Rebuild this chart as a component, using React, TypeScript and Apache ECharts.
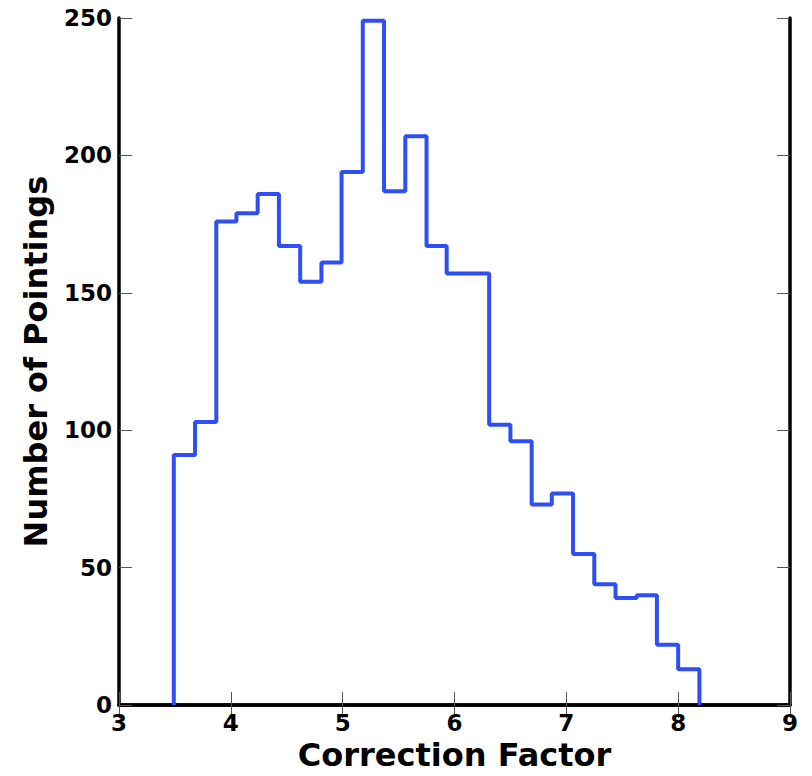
import React, { useEffect, useRef } from "react";
import * as echarts from "echarts";

const binEdges = [
  3.49, 3.68, 3.87, 4.05, 4.24, 4.43, 4.62, 4.81, 4.99, 5.18, 5.37, 5.56, 5.75,
  5.93, 6.12, 6.31, 6.5, 6.69, 6.87, 7.06, 7.25, 7.44, 7.63, 7.81, 8.0, 8.19,
];
const counts = [
  91, 103, 176, 179, 186, 167, 154, 161, 194, 249, 187, 207, 167, 157, 157, 102,
  96, 73, 77, 55, 44, 39, 40, 22, 13,
];
const xTicks = [3, 4, 5, 6, 7, 8, 9];
const yTicks = [0, 50, 100, 150, 200, 250];
const xTitle = "Correction Factor";
const yTitle = "Number of Pointings";

const FONT = "DejaVu Sans";

export default function App() {
  const ref = useRef<HTMLDivElement>(null);
  useEffect(() => {
    if (!ref.current) return;
    const chart = echarts.init(ref.current, undefined, { renderer: "svg" });
    const pts: [number, number][] = [[binEdges[0], 0]];
    counts.forEach((c, i) => {
      pts.push([binEdges[i], c]);
      pts.push([binEdges[i + 1], c]);
    });
    pts.push([binEdges[binEdges.length - 1], 0]);

    const axisLine = { show: true, lineStyle: { color: "#000", width: 3.5 } };
    const axisTick = { show: true, inside: true, length: 13, lineStyle: { color: "#555", width: 1 } };
    const labelStyle = { fontFamily: FONT, fontWeight: "bold" as const, fontSize: 23, color: "#000" };
    const titleStyle = { fontFamily: FONT, fontWeight: "bold" as const, fontSize: 32, color: "#000" };

    chart.setOption({
      animation: false,
      backgroundColor: "#fff",
      grid: { left: 119, top: 18, right: 22, bottom: 67, containLabel: false },
      xAxis: [
        {
          type: "value",
          min: xTicks[0],
          max: xTicks[xTicks.length - 1],
          interval: 1,
          position: "bottom",
          axisLine,
          axisTick,
          splitLine: { show: false },
          axisLabel: { ...labelStyle, margin: 6 },
          name: xTitle,
          nameLocation: "middle",
          nameGap: 32,
          nameTextStyle: titleStyle,
        },
        {
          type: "value",
          min: xTicks[0],
          max: xTicks[xTicks.length - 1],
          interval: 1,
          position: "top",
          axisLine,
          axisTick,
          splitLine: { show: false },
          axisLabel: { show: false },
        },
      ],
      yAxis: [
        {
          type: "value",
          min: yTicks[0],
          max: yTicks[yTicks.length - 1],
          interval: 50,
          position: "left",
          axisLine,
          axisTick,
          splitLine: { show: false },
          axisLabel: { ...labelStyle, margin: 7 },
          name: yTitle,
          nameLocation: "middle",
          nameGap: 67,
          nameTextStyle: titleStyle,
        },
        {
          type: "value",
          min: yTicks[0],
          max: yTicks[yTicks.length - 1],
          interval: 50,
          position: "right",
          axisLine,
          axisTick,
          splitLine: { show: false },
          axisLabel: { show: false },
        },
      ],
      series: [
        {
          type: "line",
          data: pts,
          xAxisIndex: 0,
          yAxisIndex: 0,
          showSymbol: false,
          symbol: "none",
          clip: true,
          lineStyle: { color: "#2f4ff5", width: 4 },
          z: 1,
        },
      ],
    });
    return () => chart.dispose();
  }, []);
  return (
    <div
      ref={ref}
      style={{ position: "absolute", left: 0, top: 0, width: 812, height: 776 }}
    />
  );
}
